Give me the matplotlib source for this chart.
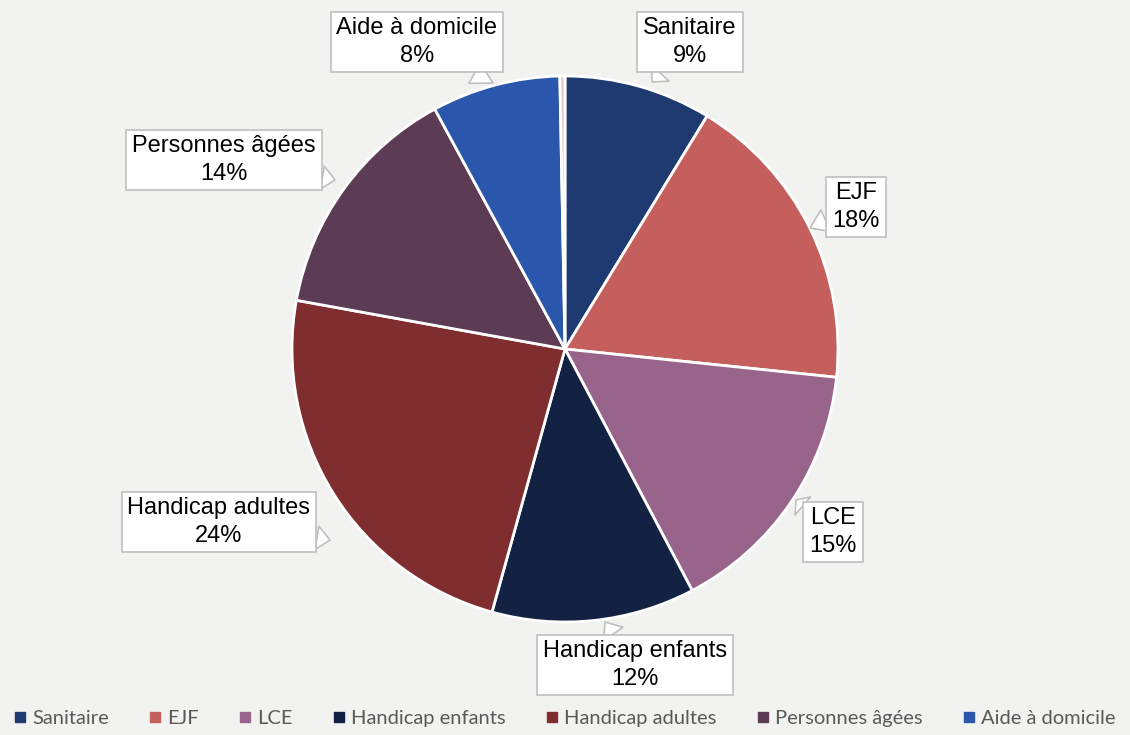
import matplotlib.pyplot as plt
from matplotlib.lines import Line2D

# donnees
categories = ['Sanitaire', 'EJF', 'LCE', 'Handicap enfants', 'Handicap adultes',
              'Personnes âgées', 'Aide à domicile', '']
valeurs = [8.7, 17.9, 15.6, 12.0, 23.5, 14.2, 7.6, 0.3]
etiquettes = ['9%', '18%', '15%', '12%', '24%', '14%', '8%', '']
couleurs = ['#1f3a70', '#c55f5e', '#98648b', '#132143', '#7f2d2f',
            '#5c3b54', '#2a56ac', '#e8c4c4']

fond = '#f2f2f0'
W, H = 1130, 735
cx, cy, R = 565, 349, 273

fig = plt.figure(figsize=(W / 100, H / 100), dpi=100, facecolor=fond)
ax = fig.add_axes([(cx - R) / W, (H - cy - R) / H, 2 * R / W, 2 * R / H])
ax.set_facecolor(fond)

wedges, _ = ax.pie(valeurs, colors=couleurs, startangle=90, counterclock=False,
                   radius=1, wedgeprops=dict(edgecolor='white', linewidth=2))
ax.set_xlim(-1, 1)
ax.set_ylim(-1, 1)
ax.set_aspect('equal')
ax.axis('off')


def px(x, y):
    return ((x - cx) / R, (cy - y) / R)


# position des boites et pointe du callout (pixels)
boites = [(690, 42), (856, 207), (833, 532), (635, 665), (219, 522), (224, 160), (417, 42)]
pointes = [(652, 82), (810, 228), (796, 500), (605, 622), (330, 540), (335, 180), (493, 83)]

for i in range(7):
    ax.annotate(categories[i] + '\n' + etiquettes[i], xy=px(*pointes[i]), xytext=px(*boites[i]),
                ha='center', va='center', fontsize=17, family='Liberation Sans',
                linespacing=1.3, annotation_clip=False,
                bbox=dict(boxstyle='square,pad=0.25', fc='white', ec='#bfbfbf', lw=1.2),
                arrowprops=dict(arrowstyle='wedge,tail_width=1.0,shrink_factor=0.5',
                                fc='white', ec='#bfbfbf', lw=1.2, shrinkA=0, shrinkB=0))

handles = [Line2D([], [], marker='s', ls='none', markersize=7, color=couleurs[i])
           for i in range(7)]
fig.legend(handles, categories[:7], loc='center', bbox_to_anchor=(0.5, 1 - 718 / H),
           ncol=7, frameon=False, handlelength=0.6, handletextpad=0.3, columnspacing=2.0,
           prop={'family': 'Lato', 'size': 14.5}, labelcolor='#595959')

fig.savefig('out.png', dpi=100, facecolor=fond)
